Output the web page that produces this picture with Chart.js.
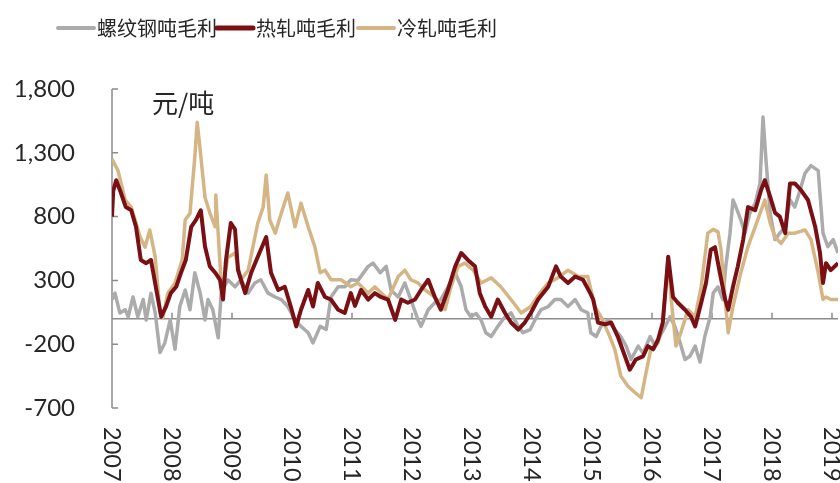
<!DOCTYPE html>
<html>
<head>
<meta charset="utf-8">
<script src="https://cdn.jsdelivr.net/npm/chart.js@4.4.0/dist/chart.umd.min.js"></script>
<style>
  html, body { margin: 0; padding: 0; background: #fff; }
  #wrap { width: 840px; height: 483px; }
</style>
</head>
<body>
<div id="wrap"><canvas id="chart" width="840" height="483"></canvas></div>
<script>
// legend names, in legend order
const seriesNames = ['螺纹钢吨毛利', '热轧吨毛利', '冷轧吨毛利'];
const unitLabel = '元/吨';
const yTicks = [-700, -200, 300, 800, 1300, 1800];
const xTicks = [2007, 2008, 2009, 2010, 2011, 2012, 2013, 2014, 2015, 2016, 2017, 2018, 2019];

// rebar (螺纹钢) – time in decimal years, value in yuan/ton
const rebarX = [2007.00,2007.05,2007.13,2007.22,2007.27,2007.35,2007.43,2007.52,2007.57,2007.65,2007.72,2007.80,2007.88,2007.97,2008.05,2008.13,2008.22,2008.30,2008.38,2008.47,2008.55,2008.60,2008.68,2008.77,2008.82,2008.93,2009.05,2009.15,2009.27,2009.38,2009.48,2009.60,2009.72,2009.82,2009.93,2010.05,2010.15,2010.27,2010.35,2010.47,2010.57,2010.65,2010.77,2010.88,2010.98,2011.10,2011.27,2011.35,2011.47,2011.57,2011.65,2011.77,2011.88,2011.98,2012.10,2012.15,2012.27,2012.38,2012.48,2012.60,2012.72,2012.82,2012.90,2012.98,2013.07,2013.15,2013.23,2013.32,2013.43,2013.55,2013.65,2013.77,2013.85,2013.97,2014.05,2014.15,2014.27,2014.38,2014.48,2014.60,2014.72,2014.82,2014.93,2014.98,2015.07,2015.15,2015.27,2015.38,2015.48,2015.57,2015.65,2015.77,2015.85,2015.97,2016.05,2016.13,2016.22,2016.30,2016.38,2016.47,2016.55,2016.63,2016.72,2016.80,2016.88,2016.97,2017.02,2017.10,2017.18,2017.23,2017.30,2017.35,2017.40,2017.48,2017.55,2017.63,2017.72,2017.80,2017.85,2017.90,2017.97,2018.05,2018.13,2018.22,2018.30,2018.38,2018.47,2018.55,2018.65,2018.77,2018.85,2018.93,2019.02,2019.10];
const rebarY = [150,200,45,70,15,170,15,150,-10,200,45,-265,-190,-10,-240,95,225,70,360,200,-10,150,70,-150,200,305,250,305,200,280,305,200,170,150,95,-10,-60,-110,-190,-60,-85,170,250,250,305,300,410,435,360,410,225,170,280,150,-10,-60,70,125,150,250,360,250,70,15,40,-10,-110,-140,-60,15,45,-60,-110,-85,-10,70,95,150,150,95,150,70,45,-110,-140,-60,-10,-85,-140,-215,-320,-215,-270,-140,-215,-140,-60,15,-60,-190,-320,-295,-215,-340,-140,15,200,250,150,410,670,930,875,775,670,825,905,1060,1580,1240,825,620,670,720,930,875,1010,1140,1200,1160,670,565,620,515];

// hot rolled (热轧)
const hotX = [2007.00,2007.02,2007.07,2007.15,2007.23,2007.32,2007.40,2007.48,2007.57,2007.65,2007.73,2007.82,2007.90,2007.98,2008.07,2008.15,2008.23,2008.32,2008.40,2008.48,2008.55,2008.63,2008.72,2008.80,2008.85,2008.90,2008.98,2009.05,2009.10,2009.22,2009.32,2009.43,2009.57,2009.65,2009.77,2009.88,2009.98,2010.07,2010.15,2010.27,2010.35,2010.43,2010.55,2010.65,2010.77,2010.88,2010.98,2011.05,2011.15,2011.27,2011.38,2011.48,2011.60,2011.72,2011.82,2011.93,2012.05,2012.15,2012.27,2012.38,2012.48,2012.60,2012.72,2012.82,2012.93,2013.05,2013.13,2013.22,2013.32,2013.43,2013.55,2013.65,2013.77,2013.88,2013.98,2014.10,2014.27,2014.40,2014.48,2014.60,2014.72,2014.85,2014.97,2015.02,2015.10,2015.22,2015.32,2015.43,2015.55,2015.63,2015.73,2015.85,2015.93,2016.02,2016.10,2016.18,2016.27,2016.35,2016.43,2016.55,2016.65,2016.72,2016.82,2016.90,2016.98,2017.05,2017.13,2017.22,2017.27,2017.35,2017.43,2017.52,2017.60,2017.72,2017.82,2017.88,2017.97,2018.05,2018.13,2018.22,2018.30,2018.38,2018.48,2018.60,2018.72,2018.80,2018.85,2018.90,2018.98,2019.10];
const hotY = [800,1000,1085,985,875,850,720,460,435,460,250,15,95,200,250,360,460,720,775,850,565,410,360,305,150,460,750,700,380,200,360,485,640,360,225,250,95,-60,70,225,95,280,170,150,70,45,200,100,225,150,200,170,150,-10,150,125,150,225,305,170,70,225,410,515,460,410,200,95,15,150,45,-30,-85,-30,45,150,250,410,330,280,330,305,200,150,-30,-45,-30,-140,-295,-400,-320,-295,-215,-240,-165,-30,485,170,125,70,15,-60,125,280,540,560,360,150,70,250,410,620,875,850,1010,1085,955,830,800,670,1060,1060,1010,930,720,515,280,435,380,435];

// cold rolled (冷轧)
const coldX = [2007.00,2007.10,2007.22,2007.32,2007.47,2007.55,2007.63,2007.72,2007.80,2007.85,2007.93,2008.05,2008.17,2008.22,2008.30,2008.38,2008.42,2008.47,2008.55,2008.63,2008.72,2008.73,2008.83,2008.93,2009.05,2009.15,2009.27,2009.43,2009.52,2009.57,2009.63,2009.72,2009.82,2009.93,2010.05,2010.15,2010.27,2010.38,2010.47,2010.55,2010.65,2010.82,2010.98,2011.10,2011.27,2011.38,2011.60,2011.77,2011.88,2011.98,2012.10,2012.22,2012.38,2012.55,2012.65,2012.77,2012.88,2013.02,2013.15,2013.32,2013.48,2013.65,2013.82,2013.98,2014.13,2014.27,2014.43,2014.60,2014.77,2014.93,2015.05,2015.15,2015.27,2015.38,2015.48,2015.60,2015.72,2015.82,2015.90,2015.98,2016.10,2016.18,2016.27,2016.32,2016.40,2016.48,2016.60,2016.72,2016.82,2016.93,2017.02,2017.10,2017.15,2017.22,2017.27,2017.35,2017.48,2017.60,2017.72,2017.82,2017.88,2017.97,2018.05,2018.15,2018.27,2018.38,2018.55,2018.65,2018.77,2018.85,2018.90,2018.98,2019.10];
const coldY = [1250,1160,930,875,640,560,695,485,50,10,200,280,460,775,825,1265,1540,1320,950,830,720,970,200,480,515,305,380,750,875,1125,775,670,825,985,720,905,720,565,360,380,305,305,250,280,200,250,150,330,380,305,280,225,170,70,250,410,435,380,280,320,250,150,45,95,200,280,320,380,330,330,95,15,-110,-240,-450,-530,-580,-620,-425,-240,-190,-30,485,150,-215,-110,70,15,250,670,700,680,540,150,-110,95,360,565,720,850,930,750,640,590,670,670,695,620,360,150,170,150,150];

const colors = ['#ababab', '#7a1014', '#d6b585'];
const numFont = 'Lato, "Liberation Sans", sans-serif';
const cjkFont = '"Noto Sans CJK SC", sans-serif';

function toPoints(xs, ys) {
  return xs.map((x, i) => ({ x: x, y: ys[i] }));
}

// axes, tick labels, unit label and legend drawn by hand
const decorations = {
  id: 'decorations',
  beforeDatasetsDraw(chart) {
    const ctx = chart.ctx;
    const xs = chart.scales.x, ys = chart.scales.y;
    const left = xs.getPixelForValue(xTicks[0]);
    const right = chart.chartArea.right;
    const zero = ys.getPixelForValue(0);
    ctx.save();
    ctx.strokeStyle = '#8c8c8c';
    ctx.lineWidth = 1.5;
    ctx.beginPath();
    ctx.moveTo(left, ys.getPixelForValue(yTicks[yTicks.length - 1]));
    ctx.lineTo(left, ys.getPixelForValue(yTicks[0]));
    yTicks.forEach(v => {
      const p = ys.getPixelForValue(v);
      ctx.moveTo(left, p);
      ctx.lineTo(left + 6, p);
    });
    ctx.moveTo(left, zero);
    ctx.lineTo(right, zero);
    xTicks.forEach(v => {
      const p = xs.getPixelForValue(v);
      ctx.moveTo(p, zero);
      ctx.lineTo(p, zero - 6);
    });
    ctx.stroke();
    ctx.restore();
  },
  afterDraw(chart) {
    const ctx = chart.ctx;
    const xs = chart.scales.x, ys = chart.scales.y;
    ctx.save();
    ctx.fillStyle = '#262626';
    // y labels
    ctx.font = '24px ' + numFont;
    ctx.textAlign = 'right';
    ctx.textBaseline = 'middle';
    yTicks.forEach(v => {
      ctx.fillText(v.toLocaleString('en-US'), 75, ys.getPixelForValue(v));
    });
    // x labels, rotated clockwise
    ctx.font = '23.5px ' + numFont;
    xTicks.forEach(v => {
      ctx.save();
      ctx.translate(xs.getPixelForValue(v), 427);
      ctx.rotate(Math.PI / 2);
      ctx.textAlign = 'left';
      ctx.textBaseline = 'middle';
      ctx.fillText(String(v), 0, 0);
      ctx.restore();
    });
    // unit
    ctx.font = '26px ' + cjkFont;
    ctx.textAlign = 'left';
    ctx.fillText(unitLabel, 152, 103);
    // legend
    const legendX = [58, 217, 358];
    ctx.font = '20px ' + cjkFont;
    seriesNames.forEach((name, i) => {
      const x0 = legendX[i];
      ctx.strokeStyle = colors[i];
      ctx.lineWidth = i === 1 ? 5 : 4;
      ctx.lineCap = 'round';
      ctx.beginPath();
      ctx.moveTo(x0, 28);
      ctx.lineTo(x0 + 36, 28);
      ctx.stroke();
      ctx.fillStyle = '#262626';
      ctx.fillText(name, x0 + 39, 28);
    });
    ctx.restore();
  }
};

new Chart(document.getElementById('chart'), {
  type: 'line',
  data: {
    datasets: [
      { label: seriesNames[0], data: toPoints(rebarX, rebarY), borderColor: colors[0], borderWidth: 3.5, order: 3 },
      { label: seriesNames[1], data: toPoints(hotX, hotY), borderColor: colors[1], borderWidth: 4, order: 1 },
      { label: seriesNames[2], data: toPoints(coldX, coldY), borderColor: colors[2], borderWidth: 3.5, order: 2 }
    ]
  },
  options: {
    responsive: false,
    animation: false,
    parsing: false,
    layout: { padding: { left: 112, right: 2, top: 89, bottom: 75 } },
    elements: {
      point: { radius: 0 },
      line: { tension: 0, borderJoinStyle: 'round', fill: false }
    },
    plugins: {
      legend: { display: false },
      tooltip: { enabled: false }
    },
    scales: {
      x: { type: 'linear', min: 2007, max: 2019.1, display: false },
      y: { type: 'linear', min: -700, max: 1800, display: false }
    }
  },
  plugins: [decorations]
});
</script>
</body>
</html>
